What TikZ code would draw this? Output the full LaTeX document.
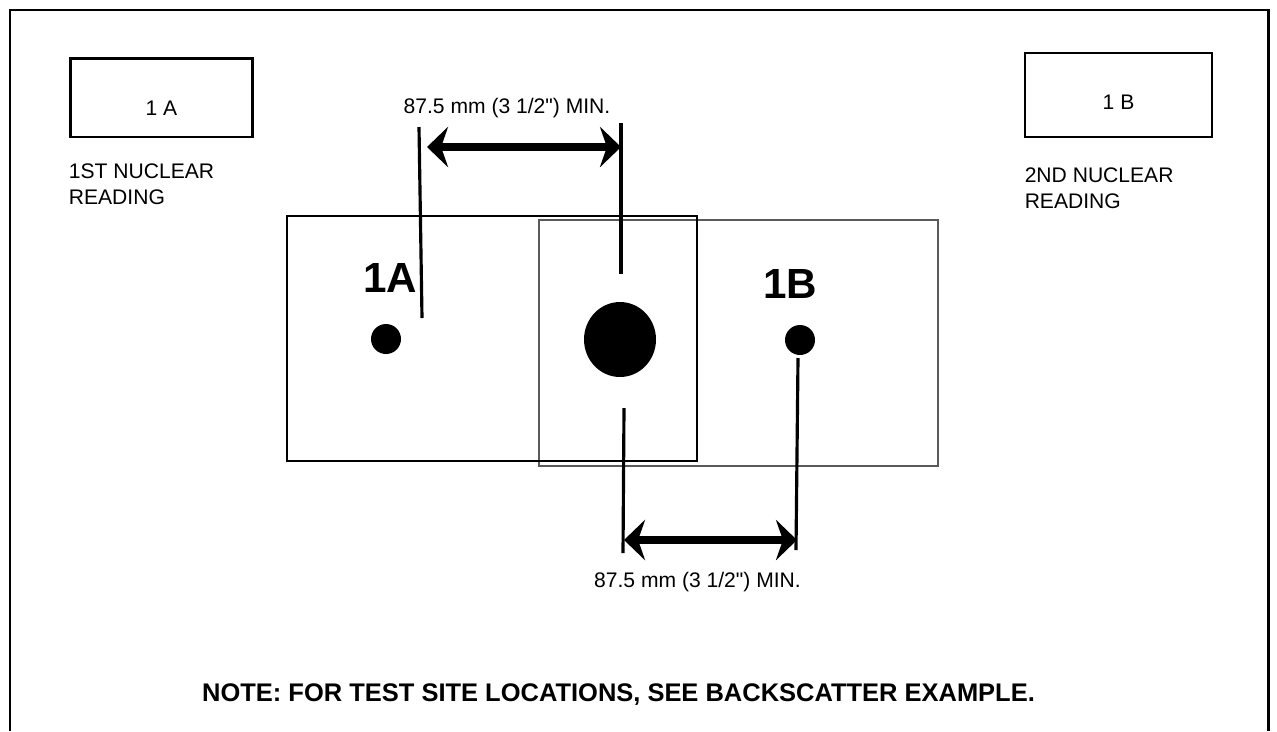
\documentclass[tikz,border=0pt]{standalone}
\usepackage{fontspec}
\setmainfont{Liberation Sans}
\usepackage{tikz}
\usetikzlibrary{shapes.geometric, arrows.meta, positioning}
\definecolor{padGray}{RGB}{90, 90, 90}
% straight inch mark, not turned into a curly quote
\newcommand{\inchmark}{\XeTeXglyph\XeTeXcharglyph"22\relax}

\begin{document}
\begin{tikzpicture}[
    x=0.02cm, y=-0.02cm,
    frameline/.style={
        line width=1.7pt,
        black
    },
    readbox/.style={
        rectangle,
        minimum width=3.66cm,
        minimum height=1.58cm,
        inner sep=0pt,
        text depth=0pt,
        font=\fontsize{12}{14.5}\selectfont
    },
    readnote/.style={
        align=left,
        inner sep=0pt,
        font=\fontsize{12}{14.5}\selectfont
    },
    pad/.style={
        rectangle,
        inner sep=0pt
    },
    site/.style={
        font=\fontsize{24}{28}\selectfont\bfseries,
        inner sep=0pt
    },
    hole/.style={
        circle,
        fill=black,
        inner sep=0pt,
        minimum size=0.6cm
    },
    dimline/.style={
        line width=1.8pt
    },
    dimarrow/.style={
        line width=4pt,
        {Stealth[length=12pt, width=23pt, inset=4pt]}-{Stealth[length=12pt, width=23pt, inset=4pt]}
    },
    dimtext/.style={
        font=\fontsize{12}{14.5}\selectfont,
        inner sep=0pt,
        anchor=base
    }
]
\useasboundingbox (0,0) rectangle (1277,731);

% Outer frame
\draw[frameline] (10,731) |- (1268,10) -- (1268,731);

% Reading boxes
\node[readbox, draw, line width=1.7pt, text height=20pt] (boxA) at (161.5,97.5) {1 A};
\node[readnote, below right=0.5cm and 0cm of boxA.south west] (noteA) {1ST NUCLEAR\\READING};
\node[readbox, draw, line width=0.7pt, minimum width=3.74cm, minimum height=1.68cm, text height=17pt] (boxB) at (1118.5,95) {1 B};
\node[readnote, below right=0.6cm and 0cm of boxB.south west] (noteB) {2ND NUCLEAR\\READING};

% Test site pads
\node[pad, draw=padGray, line width=0.8pt, minimum width=7.98cm, minimum height=4.92cm] (padB) at (738.5,343) {};
\node[pad, draw, line width=0.7pt, minimum width=8.2cm, minimum height=4.9cm] (padA) at (492,338.5) {};
\node[site] (siteA) at (390,277.5) {1A};
\node[site] (siteB) at (790,284) {1B};
\node[hole] (dotA) at (386,339) {};
\node[hole] (dotB) at (800,340) {};
\node[hole, ellipse, minimum width=1.44cm, minimum height=1.5cm] (core) at (620,339.5) {};

% Dimension lines
\coordinate (la1) at (419,127);
\coordinate (la2) at (422,318);
\coordinate (lc1) at (621,123);
\coordinate (lc2) at (621,274);
\coordinate (lc3) at (624,408);
\coordinate (lc4) at (623,553);
\coordinate (lb1) at (798,358);
\coordinate (lb2) at (796,550);
\draw[dimline] (la1) -- (la2);
\draw[dimline] (lc1) -- (lc2);
\draw[dimline] (lc3) -- (lc4);
\draw[dimline] (lb1) -- (lb2);

\coordinate (ta) at (427,147);
\coordinate (tc) at (621,147);
\coordinate (bc) at (624,540);
\coordinate (bb) at (797,540);
\draw[dimarrow] (ta) -- (tc);
\draw[dimarrow] (bc) -- (bb);
\node[dimtext] (dimTop) at (507,113) {87.5 mm (3 1/2\inchmark) MIN.};
\node[dimtext] (dimBot) at (697.5,587) {87.5 mm (3 1/2\inchmark) MIN.};

% Note
\node[font=\fontsize{14.5}{17}\selectfont\bfseries, inner sep=0pt, anchor=base] (note) at (618.5,701) {NOTE: FOR TEST SITE LOCATIONS, SEE BACKSCATTER EXAMPLE.};

\end{tikzpicture}
\end{document}
